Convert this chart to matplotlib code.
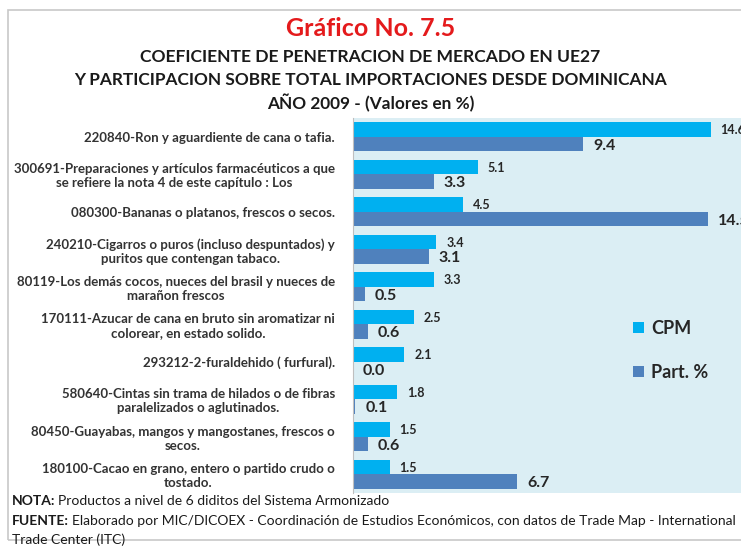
import matplotlib
matplotlib.use('Agg')
import matplotlib.pyplot as plt
from matplotlib.patches import Rectangle
import numpy as np

categorias = [
    "220840-Ron y aguardiente de cana o tafia.",
    "300691-Preparaciones y artículos farmacéuticos a que\nse refiere la nota 4 de este capítulo : Los",
    "080300-Bananas o platanos, frescos o secos.",
    "240210-Cigarros o puros (incluso despuntados) y\npuritos que contengan tabaco.",
    "80119-Los demás cocos, nueces del brasil y nueces de\nmarañon frescos",
    "170111-Azucar de cana en bruto sin aromatizar ni\ncolorear, en estado solido.",
    "293212-2-furaldehido ( furfural).",
    "580640-Cintas sin trama de hilados o de fibras\nparalelizados o aglutinados.",
    "80450-Guayabas, mangos y mangostanes, frescos o\nsecos.",
    "180100-Cacao en grano, entero o partido crudo o\ntostado.",
]
cpm = [14.6, 5.1, 4.5, 3.4, 3.3, 2.5, 2.1, 1.8, 1.5, 1.5]
part = [9.4, 3.3, 14.5, 3.1, 0.5, 0.6, 0.0, 0.1, 0.6, 6.7]

col_cpm = '#00B0F0'
col_part = '#4F81BD'
fondo = '#DBEEF4'
texto = '#262626'
fam = ['Lato', 'DejaVu Sans']

fig = plt.figure(figsize=(7.41, 5.46), dpi=100)
fig.patch.set_facecolor('white')

# marco exterior
fig.patches.append(Rectangle((8/741, 6/546), 740/741, 530/546, transform=fig.transFigure,
                             fill=False, edgecolor='#C8C8C8', linewidth=1.2))

ax = fig.add_axes([353/741, 1 - 493/546, 1 - 353/741, (493 - 118)/546])
ax.set_facecolor(fondo)

y = np.arange(len(categorias))
h = 0.39
ax.barh(y - h/2, cpm, height=h, color=col_cpm, label='CPM')
ax.barh(y + h/2, part, height=h, color=col_part, label='Part. %')

for i in range(len(categorias)):
    ax.text(cpm[i] + 0.4, y[i] - h/2 + 0.02, '%.1f' % cpm[i], va='center', ha='left',
            fontsize=9, fontweight='bold', color=texto, family=fam, clip_on=False)
    ax.text(part[i] + 0.4, y[i] + h/2 + 0.04, '%.1f' % part[i], va='center', ha='left',
            fontsize=11.5, fontweight='bold', color=texto, family=fam, clip_on=False)

ax.set_xlim(0, 15.84)
ax.set_ylim(len(categorias) - 0.5, -0.5)
ax.set_yticks(y)
ax.set_yticklabels(categorias)
for lab in ax.get_yticklabels():
    lab.set_multialignment('center')
    lab.set_fontsize(9.5)
    lab.set_family(fam)
    lab.set_fontweight('bold')
    lab.set_color('#333333')
ax.tick_params(axis='y', length=0, pad=13)
ax.set_xticks([])
for s in ['top', 'right', 'bottom']:
    ax.spines[s].set_visible(False)
ax.spines['left'].set_color('#BFBFBF')

leg = ax.legend(loc='upper left', bbox_to_anchor=(0.68, 0.505), frameon=False,
                handlelength=0.6, handleheight=0.6, handletextpad=0.4, labelspacing=1.5,
                prop={'family': fam, 'size': 13, 'weight': 'bold'})
for t in leg.get_texts():
    t.set_color(texto)

# titulos
fig.text(0.5, 1 - 28/546, 'Gráfico No. 7.5', ha='center', va='center', fontsize=18,
         color='#E41A1C', family=fam, fontweight='bold')
fig.text(0.5, 1 - 57/546, 'COEFICIENTE DE PENETRACION DE MERCADO EN UE27', ha='center',
         va='center', fontsize=12.6, fontweight='bold', color='#1A1A1A', family=fam)
fig.text(0.5, 1 - 80/546, 'Y PARTICIPACION SOBRE TOTAL IMPORTACIONES DESDE DOMINICANA', ha='center',
         va='center', fontsize=12.4, fontweight='bold', color='#1A1A1A', family=fam)
fig.text(0.5, 1 - 103/546, 'AÑO 2009 - (Valores en %)', ha='center', va='center', fontsize=12.4,
         fontweight='bold', color='#1A1A1A', family=fam)

# notas al pie
fig.canvas.draw()
r = fig.canvas.get_renderer()

def nota(x, yy, negrita, resto):
    t = fig.text(x / 741, 1 - yy / 546, negrita, ha='left', va='center', fontsize=10,
                 fontweight='bold', color='#1A1A1A', family=fam)
    w = t.get_window_extent(renderer=r).width
    fig.text((x + w + 3) / 741, 1 - yy / 546, resto, ha='left', va='center', fontsize=10,
             color='#1A1A1A', family=fam)

nota(12, 501, 'NOTA:', 'Productos a nivel de 6 diditos del Sistema Armonizado')
nota(12, 521, 'FUENTE:', 'Elaborado por MIC/DICOEX - Coordinación de Estudios Económicos, con datos de Trade Map - International')
fig.text(12 / 741, 1 - 540 / 546, 'Trade Center (ITC)', ha='left', va='center', fontsize=10,
         color='#1A1A1A', family=fam)

plt.savefig('out.png', dpi=100)
